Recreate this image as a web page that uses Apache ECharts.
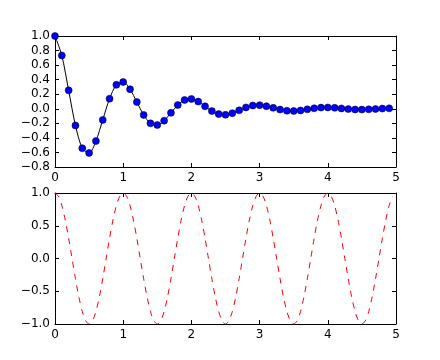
<!DOCTYPE html>
<html>
<head>
<meta charset="utf-8">
<script src="https://cdn.jsdelivr.net/npm/echarts@6/dist/echarts.min.js"></script>
<style>
html,body{margin:0;padding:0;background:#fff;}
#main{width:440px;height:360px;}
</style>
</head>
<body>
<div id="main"></div>
<script>
// Top panel: damped oscillation sample points (t = 0 .. 4.9 step 0.1)
var topT = [0,0.1,0.2,0.3,0.4,0.5,0.6,0.7,0.8,0.9,1.0,1.1,1.2,1.3,1.4,1.5,1.6,1.7,1.8,1.9,2.0,2.1,2.2,2.3,2.4,2.5,2.6,2.7,2.8,2.9,3.0,3.1,3.2,3.3,3.4,3.5,3.6,3.7,3.8,3.9,4.0,4.1,4.2,4.3,4.4,4.5,4.6,4.7,4.8,4.9];
var topY = [1.000,0.732,0.253,-0.229,-0.542,-0.607,-0.444,-0.153,0.139,0.329,0.368,0.269,0.093,-0.084,-0.200,-0.223,-0.163,-0.056,0.051,0.121,0.135,0.099,0.034,-0.031,-0.073,-0.082,-0.060,-0.021,0.019,0.045,0.050,0.036,0.013,-0.011,-0.027,-0.030,-0.022,-0.008,0.007,0.016,0.018,0.013,0.005,-0.004,-0.010,-0.011,-0.008,-0.003,0.003,0.006];
// Bottom panel: red dashed oscillation (t = 0 .. 4.95 step 0.05)
var botT = [0,0.05,0.1,0.15,0.2,0.25,0.3,0.35,0.4,0.45,0.5,0.55,0.6,0.65,0.7,0.75,0.8,0.85,0.9,0.95,
            1.0,1.05,1.1,1.15,1.2,1.25,1.3,1.35,1.4,1.45,1.5,1.55,1.6,1.65,1.7,1.75,1.8,1.85,1.9,1.95,
            2.0,2.05,2.1,2.15,2.2,2.25,2.3,2.35,2.4,2.45,2.5,2.55,2.6,2.65,2.7,2.75,2.8,2.85,2.9,2.95,
            3.0,3.05,3.1,3.15,3.2,3.25,3.3,3.35,3.4,3.45,3.5,3.55,3.6,3.65,3.7,3.75,3.8,3.85,3.9,3.95,
            4.0,4.05,4.1,4.15,4.2,4.25,4.3,4.35,4.4,4.45,4.5,4.55,4.6,4.65,4.7,4.75,4.8,4.85,4.9,4.95];
var botY = [1,0.951,0.809,0.588,0.309,0,-0.309,-0.588,-0.809,-0.951,-1,-0.951,-0.809,-0.588,-0.309,0,0.309,0.588,0.809,0.951,
            1,0.951,0.809,0.588,0.309,0,-0.309,-0.588,-0.809,-0.951,-1,-0.951,-0.809,-0.588,-0.309,0,0.309,0.588,0.809,0.951,
            1,0.951,0.809,0.588,0.309,0,-0.309,-0.588,-0.809,-0.951,-1,-0.951,-0.809,-0.588,-0.309,0,0.309,0.588,0.809,0.951,
            1,0.951,0.809,0.588,0.309,0,-0.309,-0.588,-0.809,-0.951,-1,-0.951,-0.809,-0.588,-0.309,0,0.309,0.588,0.809,0.951,
            1,0.951,0.809,0.588,0.309,0,-0.309,-0.588,-0.809,-0.951,-1,-0.951,-0.809,-0.588,-0.309,0,0.309,0.588,0.809,0.951];
var xTicks = ['0','1','2','3','4','5'];

function pairs(xs, ys){ return xs.map(function(x,i){ return [x, ys[i]]; }); }
function fmt1(v){ var s = (Math.abs(v) < 1e-9 ? 0 : v).toFixed(1); return s.replace('-', '\u2212'); }
function fmtX(v){ return xTicks[Math.round(v)]; }

var font = 'DejaVu Sans';
var fs = 12;
var tickStyle = { show: true, inside: true, length: 4, lineStyle: { color: '#000', width: 1 } };
var lineStyle = { show: true, onZero: false, lineStyle: { color: '#000', width: 1 } };

function xAxisPair(gi){
  return [
    { type: 'value', gridIndex: gi, min: 0, max: 5, interval: 1, position: 'bottom',
      axisLine: lineStyle, axisTick: tickStyle, splitLine: { show: false },
      axisLabel: { formatter: fmtX, color: '#000', fontFamily: font, fontSize: fs, margin: 5 } },
    { type: 'value', gridIndex: gi, min: 0, max: 5, interval: 1, position: 'top',
      axisLine: lineStyle, axisTick: tickStyle, splitLine: { show: false },
      axisLabel: { show: false } }
  ];
}
function yAxisPair(gi, mn, mx, iv){
  return [
    { type: 'value', gridIndex: gi, min: mn, max: mx, interval: iv, position: 'left',
      axisLine: lineStyle, axisTick: tickStyle, splitLine: { show: false },
      axisLabel: { formatter: fmt1, color: '#000', fontFamily: font, fontSize: fs, margin: 5 } },
    { type: 'value', gridIndex: gi, min: mn, max: mx, interval: iv, position: 'right',
      axisLine: lineStyle, axisTick: tickStyle, splitLine: { show: false },
      axisLabel: { show: false } }
  ];
}

var chart = echarts.init(document.getElementById('main'), null, { renderer: 'canvas' });
chart.setOption({
  animation: false,
  backgroundColor: '#fff',
  grid: [
    { left: 55, top: 36, width: 341, height: 131 },
    { left: 55, top: 193, width: 341, height: 131 }
  ],
  xAxis: xAxisPair(0).concat(xAxisPair(1)),
  yAxis: yAxisPair(0, -0.8, 1.0, 0.2).concat(yAxisPair(1, -1, 1, 0.5)),
  series: [
    { type: 'line', xAxisIndex: 0, yAxisIndex: 0, data: pairs(topT, topY),
      smooth: 0.3, showSymbol: false, symbol: 'none',
      lineStyle: { color: '#000', width: 1 }, z: 2 },
    { type: 'scatter', xAxisIndex: 0, yAxisIndex: 0, data: pairs(topT, topY),
      symbol: 'circle', symbolSize: 7,
      itemStyle: { color: '#0000ff', borderColor: '#000', borderWidth: 0.5, opacity: 1 }, z: 3 },
    { type: 'line', xAxisIndex: 2, yAxisIndex: 2, data: pairs(botT, botY),
      smooth: 0.3, showSymbol: false, symbol: 'none',
      lineStyle: { color: '#ff0000', width: 1, type: [6, 6] }, z: 2 }
  ]
});
</script>
</body>
</html>
